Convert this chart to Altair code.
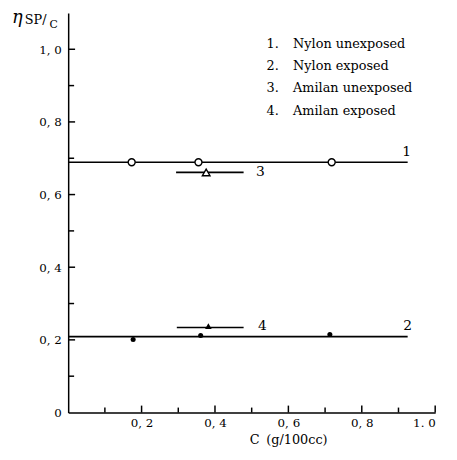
import altair as alt
import pandas as pd

FONT = "DejaVu Serif"

# Horizontal lines (series)
series_id = ["1", "2", "3", "4"]
line_y = [0.689, 0.209, 0.661, 0.234]
line_x1 = [0.0, 0.0, 0.294, 0.296]
line_x2 = [0.925, 0.925, 0.478, 0.478]

# Data points
nylon_unexp_x = [0.173, 0.355, 0.718]
nylon_unexp_y = [0.689, 0.689, 0.689]
nylon_exp_x = [0.177, 0.361, 0.713]
nylon_exp_y = [0.201, 0.212, 0.215]
amilan_unexp_x = [0.376]
amilan_unexp_y = [0.661]
amilan_exp_x = [0.382]
amilan_exp_y = [0.238]

# Line number labels
lab_text = ["1", "2", "3", "4"]
lab_x = [0.922, 0.925, 0.512, 0.517]
lab_y = [0.696, 0.216, 0.661, 0.237]
lab_baseline = ["bottom", "bottom", "middle", "middle"]

# Legend
legend_num = ["1.", "2.", "3.", "4."]
legend_txt = ["Nylon unexposed", "Nylon exposed", "Amilan unexposed", "Amilan exposed"]
legend_y = [1.015, 0.953, 0.893, 0.831]

# Ticks
major_ticks = [0.2, 0.4, 0.6, 0.8, 1.0]
minor_ticks = [0.1, 0.3, 0.5, 0.7, 0.9]

xs = alt.Scale(domain=[0, 1.0], nice=False)
ys = alt.Scale(domain=[0, 1.1], nice=False)

lines = pd.DataFrame({"id": series_id, "y": line_y, "x1": line_x1, "x2": line_x2})
pts_open = pd.DataFrame({"x": nylon_unexp_x, "y": nylon_unexp_y})
pts_fill = pd.DataFrame({"x": nylon_exp_x, "y": nylon_exp_y})
tri_open = pd.DataFrame({"x": amilan_unexp_x, "y": amilan_unexp_y})
tri_fill = pd.DataFrame({"x": amilan_exp_x, "y": amilan_exp_y})
labs = pd.DataFrame({"t": lab_text, "x": lab_x, "y": lab_y, "b": lab_baseline})
leg = pd.DataFrame({"n": legend_num, "t": legend_txt, "y": legend_y})

ylab_expr = "{'0':'0','0.2':'0, 2','0.4':'0, 4','0.6':'0, 6','0.8':'0, 8','1':'1, 0'}[format(datum.value,'')]"
xlab_expr = "{'0.2':'0, 2','0.4':'0, 4','0.6':'0, 6','0.8':'0, 8','1':'1. 0'}[format(datum.value,'')]"

x_axis = alt.Axis(
    values=[0.2, 0.4, 0.6, 0.8, 1.0], labelExpr=xlab_expr, grid=False, ticks=False,
    domainColor="black", domainWidth=1.5, labelFont=FONT, labelFontSize=12, labelColor="black",
    labelPadding=5, title="C\u2009 (g/100cc)", titleFont=FONT, titleFontSize=13,
    titleFontWeight="normal", titleColor="black", titleX=223, titleY=27, titleBaseline="middle")
y_axis = alt.Axis(
    values=[0, 0.2, 0.4, 0.6, 0.8, 1.0], labelExpr=ylab_expr, grid=False, ticks=False,
    domainColor="black", domainWidth=1.5, labelFont=FONT, labelFontSize=12, labelColor="black",
    labelPadding=7, title=None)

rules = alt.Chart(lines).mark_rule(color="black", strokeWidth=1.6).encode(
    x=alt.X("x1:Q", scale=xs, axis=x_axis), x2="x2:Q",
    y=alt.Y("y:Q", scale=ys, axis=y_axis))

p_open = alt.Chart(pts_open).mark_point(shape="circle", size=50, filled=True, fill="white",
                                         stroke="black", strokeWidth=1.4, opacity=1).encode(
    x=alt.X("x:Q", scale=xs), y=alt.Y("y:Q", scale=ys))
p_fill = alt.Chart(pts_fill).mark_point(shape="circle", size=26, filled=True, color="black",
                                         opacity=1).encode(
    x=alt.X("x:Q", scale=xs), y=alt.Y("y:Q", scale=ys))
t_open = alt.Chart(tri_open).mark_point(shape="triangle-up", size=60, filled=True, fill="white",
                                         stroke="black", strokeWidth=1.4, opacity=1).encode(
    x=alt.X("x:Q", scale=xs), y=alt.Y("y:Q", scale=ys))
t_fill = alt.Chart(tri_fill).mark_point(shape="triangle-up", size=45, filled=True, color="black",
                                         opacity=1).encode(
    x=alt.X("x:Q", scale=xs), y=alt.Y("y:Q", scale=ys))

lab_bottom = alt.Chart(labs[labs.b == "bottom"]).mark_text(font=FONT, fontSize=14, color="black",
                                                       baseline="bottom", align="center", dy=-1).encode(
    x=alt.X("x:Q", scale=xs), y=alt.Y("y:Q", scale=ys), text="t:N")
lab_mid = alt.Chart(labs[labs.b == "middle"]).mark_text(font=FONT, fontSize=14, color="black",
                                                    baseline="middle", align="left").encode(
    x=alt.X("x:Q", scale=xs), y=alt.Y("y:Q", scale=ys), text="t:N")

leg_n = alt.Chart(leg).mark_text(font=FONT, fontSize=13, color="black", align="left",
                                 baseline="middle").encode(
    x=alt.value(201), y=alt.Y("y:Q", scale=ys), text="n:N")
leg_t = alt.Chart(leg).mark_text(font=FONT, fontSize=13, color="black", align="left",
                                 baseline="middle").encode(
    x=alt.value(228), y=alt.Y("y:Q", scale=ys), text="t:N")

major = pd.DataFrame({"v": major_ticks})
minor = pd.DataFrame({"v": minor_ticks})
ytick_major = alt.Chart(major).mark_rule(color="black", strokeWidth=1.5).encode(
    y=alt.Y("v:Q", scale=ys), x=alt.value(0), x2=alt.value(7))
ytick_minor = alt.Chart(minor).mark_rule(color="black", strokeWidth=1.5).encode(
    y=alt.Y("v:Q", scale=ys), x=alt.value(0), x2=alt.value(6))
xtick_major = alt.Chart(major).mark_rule(color="black", strokeWidth=1.5).encode(
    x=alt.X("v:Q", scale=xs), y=alt.value(405), y2=alt.value(398))
xtick_minor = alt.Chart(minor).mark_rule(color="black", strokeWidth=1.5).encode(
    x=alt.X("v:Q", scale=xs), y=alt.value(405), y2=alt.value(400))

title_df = pd.DataFrame({"t": ["\u03b7", "SP/", "C"]})
t_eta = alt.Chart(title_df.iloc[[0]]).mark_text(font=FONT, fontSize=18, fontStyle="italic",
                                                color="black", align="left", baseline="middle").encode(
    x=alt.value(-57), y=alt.value(5), text="t:N")
t_sp = alt.Chart(title_df.iloc[[1]]).mark_text(font=FONT, fontSize=13, color="black",
                                               align="left", baseline="middle").encode(
    x=alt.value(-44), y=alt.value(7), text="t:N")
t_c = alt.Chart(title_df.iloc[[2]]).mark_text(font=FONT, fontSize=11, color="black",
                                              align="left", baseline="middle").encode(
    x=alt.value(-19), y=alt.value(12), text="t:N")

chart = alt.layer(
    rules, ytick_major, ytick_minor, xtick_major, xtick_minor,
    p_open, p_fill, t_open, t_fill, lab_bottom, lab_mid, leg_n, leg_t, t_eta, t_sp, t_c
).properties(
    width=372, height=405,
    autosize=alt.AutoSizeParams(type="none"),
    padding={"left": 61, "top": 2, "right": 14, "bottom": 36},
    background="white",
).configure_view(stroke=None)

chart.save("out.html", embed_options={"renderer": "svg", "actions": False})
